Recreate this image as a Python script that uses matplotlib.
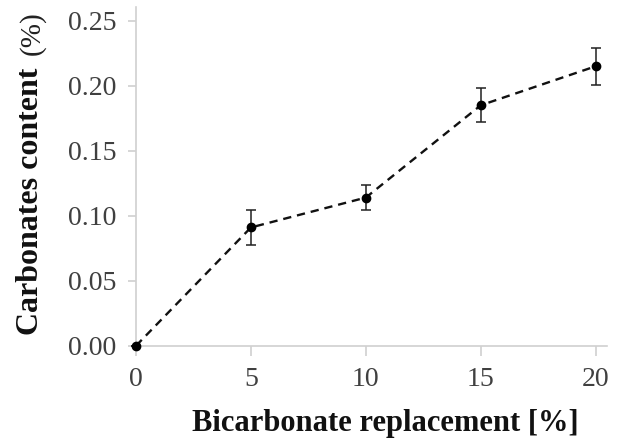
import matplotlib
matplotlib.use("Agg")
import matplotlib.pyplot as plt

replacement = [0, 5, 10, 15, 20]
carbonates = [0.0, 0.091, 0.114, 0.185, 0.215]
errors = [0.0, 0.0135, 0.0095, 0.013, 0.0142]
xticks = [0, 5, 10, 15, 20]
yticks = [0.00, 0.05, 0.10, 0.15, 0.20, 0.25]

plt.rcParams['font.family'] = ['Liberation Serif', 'DejaVu Serif']

fig = plt.figure(figsize=(6.21, 4.45), dpi=100)
ax = fig.add_axes([0.219, 0.223, 0.758, 0.761])

ax.errorbar(replacement, carbonates, yerr=errors, fmt='o', color='black',
            markersize=6, ecolor='#202020', elinewidth=1.1, capsize=3.5,
            capthick=1.1, zorder=3)
ax.plot(replacement, carbonates, linestyle=(0, (3.5, 2.5)), color='#111111',
        linewidth=1.7, zorder=2)

ax.set_xlim(0, 20.48)
ax.set_ylim(0, 0.2605)
ax.set_xticks(xticks)
ax.set_yticks(yticks)
ax.set_yticklabels([f"{v:.2f}" for v in yticks])
ax.set_xticklabels([str(v) for v in xticks])

for s in ['top', 'right']:
    ax.spines[s].set_visible(False)
for s in ['left', 'bottom']:
    ax.spines[s].set_color('#d0d0d0')
    ax.spines[s].set_linewidth(1.2)

ax.tick_params(axis='x', length=7, width=1.2, color='#d0d0d0', pad=8,
               labelsize=20, labelcolor='#404040')
ax.tick_params(axis='y', length=6, width=1.2, color='#d0d0d0', pad=8,
               labelsize=20, labelcolor='#404040')
for c in ax.get_children():
    try:
        c.set_clip_on(False)
    except Exception:
        pass

fig.text(385/621, 1 - 424/445, 'Bicarbonate replacement [%]', ha='center',
         va='center', fontsize=22, fontweight='bold', color='#111111')
fig.text(31/621, 1 - 201/445, 'Carbonates content', ha='center', va='center',
         rotation=90, fontsize=23, fontweight='bold', color='#111111')
fig.text(32/621, 1 - 33/445, '(%)', ha='center', va='center',
         rotation=90, fontsize=21, color='#222222')

fig.savefig('out.png', dpi=100)
